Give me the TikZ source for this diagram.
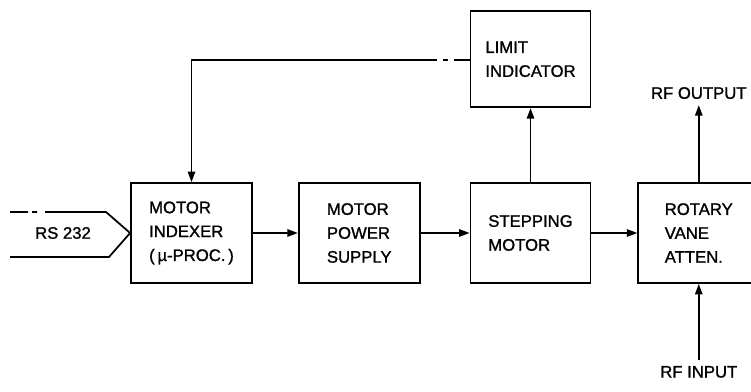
\documentclass[tikz,border=0pt]{standalone}
\usepackage{fontspec}
\setmainfont{Liberation Sans}
\newfontfamily\drawfont{Liberation Sans}[BoldFont={Liberation Sans}, BoldFeatures={FakeBold=1.2}]
\usetikzlibrary{positioning,arrows.meta}

\begin{document}
\begin{tikzpicture}[
  font=\drawfont\bfseries\fontsize{9.5}{13.6}\selectfont,
  blk/.style={draw, line width=1pt, minimum width=2.42cm, minimum height=2cm, align=left, inner sep=0pt},
  arr/.style={-{Triangle[length=6pt, width=4.2pt]}, line width=1pt},
  lab/.style={inner sep=3.3pt}
]
\clip (0,0) rectangle (15.02,7.82);

% ---------------- main chain ----------------
\node[blk] (indexer) at (3.83,3.16) {MOTOR\\INDEXER\\(\,µ-PROC.\,)};
\node[blk, right=0.9cm of indexer] (power) {MOTOR\\POWER\\SUPPLY};
\node[blk, right=0.98cm of power, minimum width=2.4cm] (stepper) {STEPPING\\MOTOR};
\node[blk, right=0.92cm of stepper] (rotary) {ROTARY\\VANE\\ATTEN.};

\draw[arr] (indexer) -- (power);
\draw[arr] (power) -- (stepper);
\draw[arr] (stepper) -- (rotary);

% ---------------- limit indicator + feedback ----------------
\node[blk, above=1.48cm of stepper, minimum width=2.4cm, minimum height=1.92cm] (limit) {LIMIT\\INDICATOR};
\draw[arr] (stepper) -- (limit);
\draw[arr, dash pattern=on 0.32cm off 0.12cm on 0.1cm off 0.12cm on 20cm] ([yshift=-0.02cm]limit.west) -| (indexer.north);

% ---------------- rf ports ----------------
\node[lab, above=1.54cm of rotary] (rfout) {RF OUTPUT};
\node[lab, below=1.52cm of rotary] (rfin) {RF INPUT};
\draw[arr] (rotary) -- (rfout);
\draw[arr] (rfin) -- (rotary);

% ---------------- RS 232 input ----------------
\node (rs) at (1.26,3.16) {RS 232};
\draw[line width=1pt, dash pattern=on 0.36cm off 0.08cm on 0.1cm off 0.16cm on 20cm]
   (0.2,3.58) -- (2.12,3.58) -- (indexer.west);
\draw[line width=1pt] (indexer.west) -- (2.18,2.68) -- (0.2,2.68);

\end{tikzpicture}
\end{document}
